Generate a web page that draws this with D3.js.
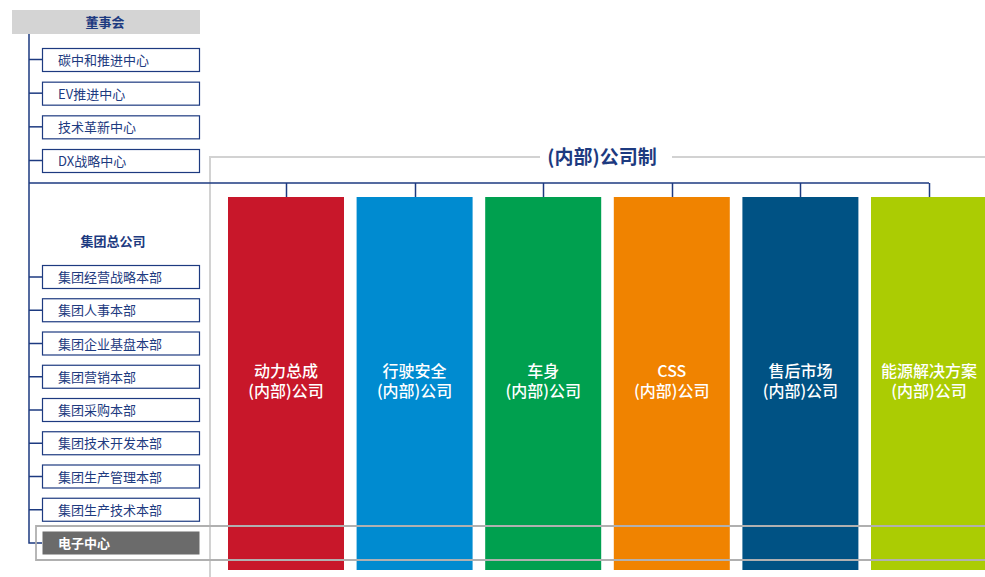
<!DOCTYPE html>
<html>
<head>
<meta charset="utf-8">
<script src="https://cdn.jsdelivr.net/npm/d3@7"></script>
<style>
  body { margin: 0; background: #fff; }
  svg { display: block; font-family: "Noto Sans CJK SC", "Noto Sans", sans-serif; }
</style>
</head>
<body>
<svg id="chart" width="985" height="577"></svg>
<script>
(function(){

	var boardLabel = "董事会";
	var boardCenters = ["碳中和推进中心", "EV推进中心", "技术革新中心", "DX战略中心"];
	var hqLabel = "集团总公司";
	var hqDepartments = ["集团经营战略本部", "集团人事本部", "集团企业基盘本部", "集团营销本部", "集团采购本部",
		"集团技术开发本部", "集团生产管理本部", "集团生产技术本部", "电子中心"];
	var companyTitle = "(内部)公司制";
	var companies = ["动力总成", "行驶安全", "车身", "CSS", "售后市场", "能源解决方案"];
	var companySuffix = "(内部)公司";
	var companyColors = ["#c8172a", "#008bd0", "#00a04f", "#f08300", "#005284", "#abcc03"];

	var navy = "#1d3a80";
	var frameGray = "#b0b0b0";

	var svg = d3.select("#chart");

	// scales
	var xCompany = d3.scaleBand().domain(companies).range([228, 987]).paddingInner(0.098);
	var yCenters = d3.scalePoint().domain(boardCenters).range([48, 149]);
	var yDepts = d3.scalePoint().domain(hqDepartments).range([265, 531]);

	drawFrames();
	drawTree();
	drawBoard();
	drawLeftBoxes(boardCenters, yCenters);
	drawLeftBoxes(hqDepartments, yDepts);
	drawCompanies();
	drawElectronicsFrame();

	function drawFrames(){
		// big light frame around the companies
		var g = svg.append("g");
		g.append("path")
			.attr("d", "M210,577 V157 H540 M672,157 H985")
			.attr("fill", "none")
			.attr("stroke", "#d2d2d2")
			.attr("stroke-width", 2);

		g.append("text")
			.attr("x", 602)
			.attr("y", 164)
			.attr("text-anchor", "middle")
			.attr("fill", navy)
			.attr("font-size", 19)
			.attr("font-weight", "bold")
			.text(companyTitle);
	}

	function drawTree(){
		var g = svg.append("g").attr("stroke", navy).attr("stroke-width", 1.5).attr("fill", "none");
		// main trunk
		g.append("path").attr("d", "M29,34 V543 H42");
		// branch to companies
		var xs = companies.map(function(d){ return xCompany(d) + xCompany.bandwidth() / 2; });
		g.append("path").attr("d", "M29,183 H" + xs[xs.length - 1]);
		g.selectAll("line.drop").data(companies).enter().append("line")
			.attr("x1", function(d){ return Math.round(xCompany(d) + xCompany.bandwidth() / 2) + 0.5; })
			.attr("x2", function(d){ return Math.round(xCompany(d) + xCompany.bandwidth() / 2) + 0.5; })
			.attr("y1", 183)
			.attr("y2", 197);
		// ticks to the left boxes
		var ticks = boardCenters.map(function(d){ return yCenters(d) + 11.5; })
			.concat(hqDepartments.slice(0, -1).map(function(d){ return yDepts(d) + 12; }));
		g.selectAll("line.tick").data(ticks).enter().append("line")
			.attr("x1", 29).attr("x2", 42)
			.attr("y1", function(d){ return d; })
			.attr("y2", function(d){ return d; });
	}

	function drawBoard(){
		svg.append("rect")
			.attr("x", 12).attr("y", 10).attr("width", 188).attr("height", 24)
			.attr("fill", "#d4d4d4");
		svg.append("text")
			.attr("x", 105).attr("y", 27)
			.attr("text-anchor", "middle")
			.attr("fill", navy)
			.attr("font-size", 13)
			.attr("font-weight", "bold")
			.text(boardLabel);

		svg.append("text")
			.attr("x", 113).attr("y", 246)
			.attr("text-anchor", "middle")
			.attr("fill", navy)
			.attr("font-size", 13)
			.attr("font-weight", "bold")
			.text(hqLabel);
	}

	function drawLeftBoxes(labels, yScale){
		var last = "电子中心";
		var g = svg.append("g");
		var box = g.selectAll("g").data(labels).enter().append("g")
			.attr("transform", function(d){ return "translate(42," + yScale(d) + ")"; });

		box.append("rect")
			.attr("x", 0.5).attr("y", 0.5)
			.attr("width", 157).attr("height", 23)
			.attr("fill", function(d){ return d == last ? "#6b6b6b" : "#fff"; })
			.attr("stroke", function(d){ return d == last ? "none" : navy; })
			.attr("stroke-width", 1.2);

		box.append("text")
			.attr("x", 16).attr("y", 17)
			.attr("fill", function(d){ return d == last ? "#fff" : navy; })
			.attr("font-size", 13)
			.attr("font-weight", function(d){ return d == last ? "bold" : "normal"; })
			.text(function(d){ return d; });
	}

	function drawCompanies(){
		var g = svg.append("g");
		var col = g.selectAll("g").data(companies).enter().append("g");

		col.append("rect")
			.attr("x", function(d){ return xCompany(d); })
			.attr("y", 197)
			.attr("width", xCompany.bandwidth())
			.attr("height", 373)
			.attr("fill", function(d, i){ return companyColors[i]; });

		var label = col.append("text")
			.attr("text-anchor", "middle")
			.attr("fill", "#fff")
			.attr("font-size", 16)
			.attr("font-weight", 500);
		label.append("tspan")
			.attr("x", function(d){ return xCompany(d) + xCompany.bandwidth() / 2; })
			.attr("y", 377)
			.text(function(d){ return d; });
		label.append("tspan")
			.attr("x", function(d){ return xCompany(d) + xCompany.bandwidth() / 2; })
			.attr("y", 397)
			.text(companySuffix);
	}

	function drawElectronicsFrame(){
		svg.append("path")
			.attr("d", "M985,526 H36 V560 H985")
			.attr("fill", "none")
			.attr("stroke", frameGray)
			.attr("stroke-width", 1.8);
	}

})();
</script>
</body>
</html>
